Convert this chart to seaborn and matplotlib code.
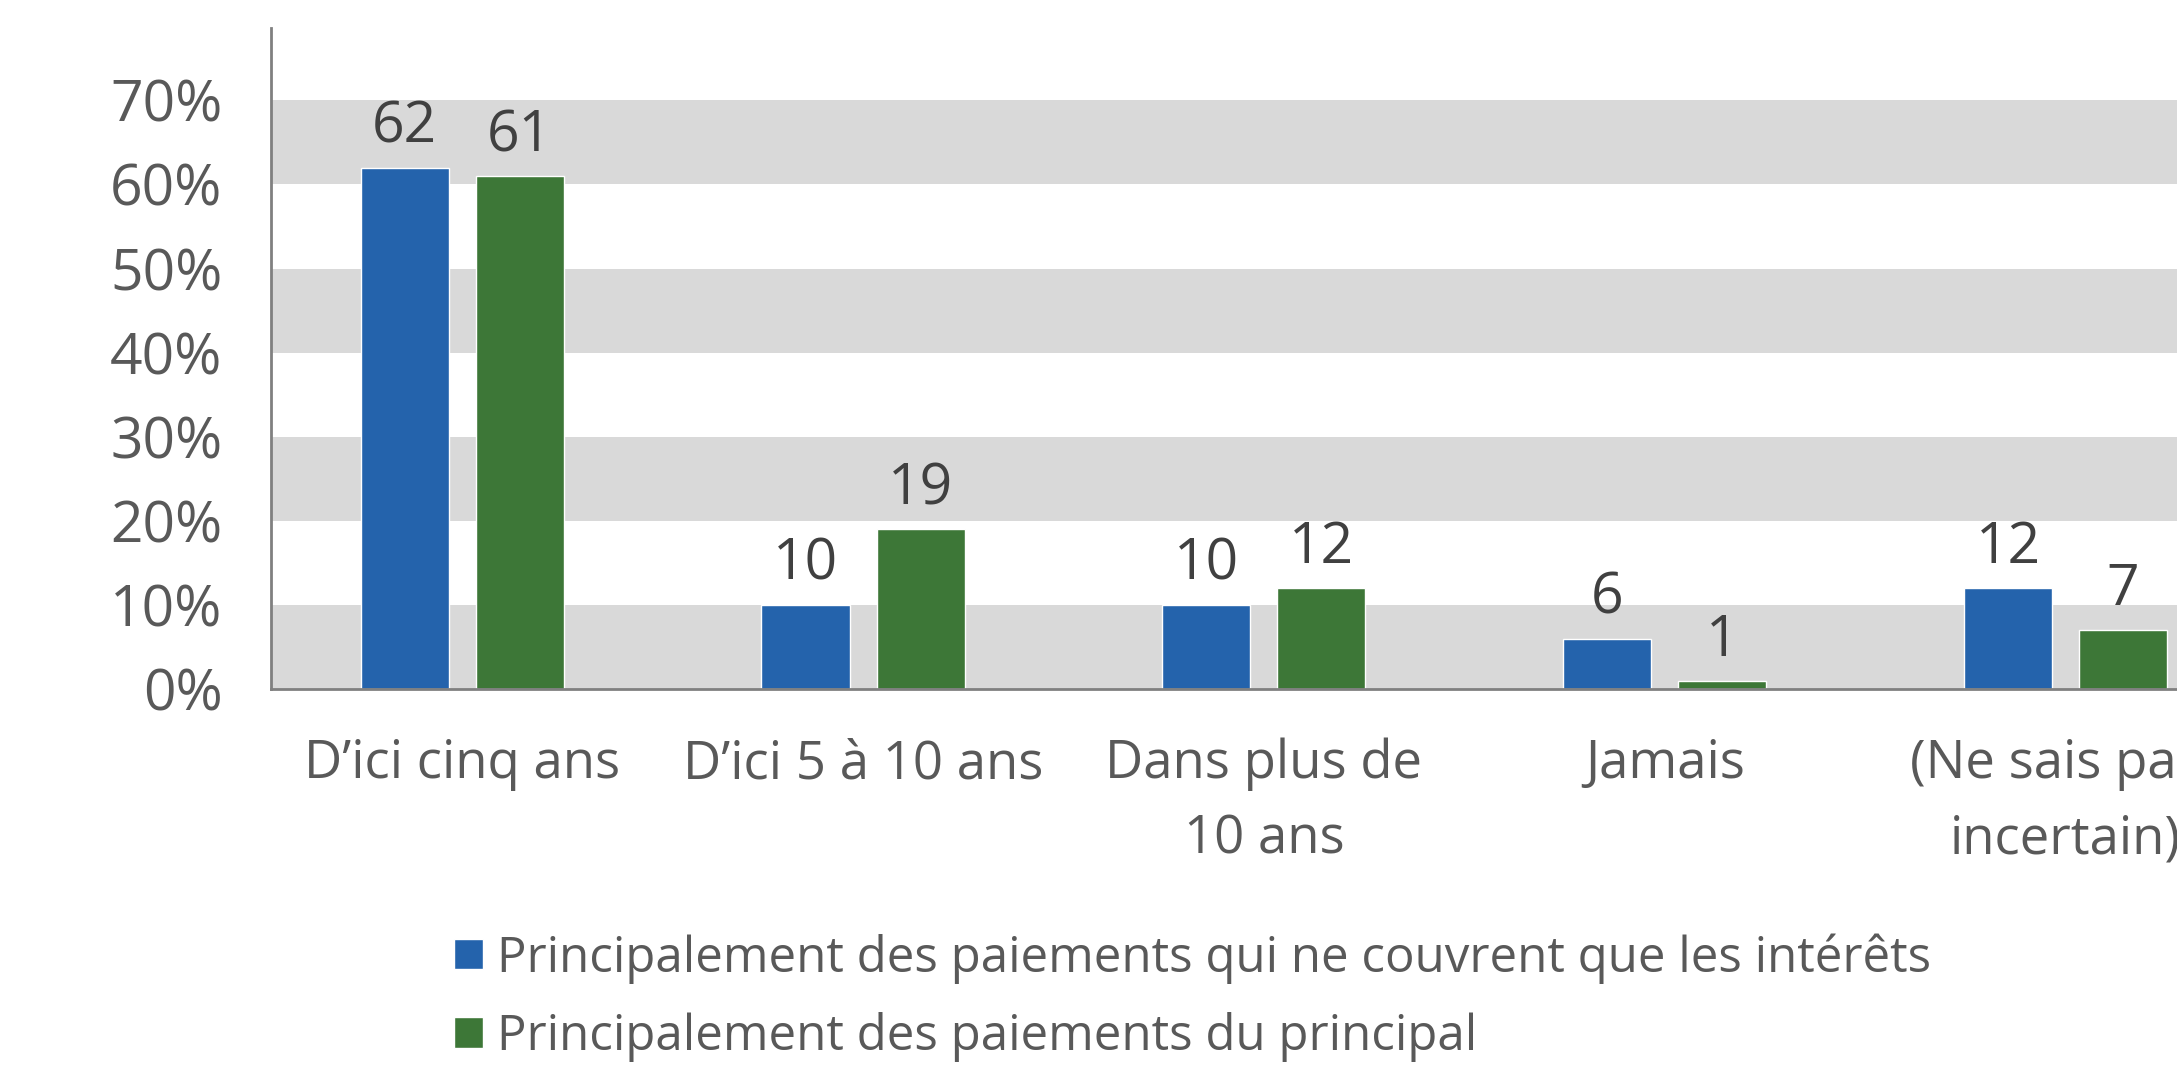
import pandas as pd
import matplotlib
matplotlib.use('Agg')
import matplotlib.pyplot as plt
import seaborn as sns

# Data (percent)
categories = ['D\u2019ici cinq ans', 'D\u2019ici 5 \u00e0 10 ans', 'Dans plus de\n10 ans',
              'Jamais', '(Ne sais pas/\nincertain)']
series_names = ['Principalement des paiements qui ne couvrent que les int\u00e9r\u00eats',
                'Principalement des paiements du principal']
interest_only = [62, 10, 10, 6, 12]
principal = [61, 19, 12, 1, 7]
y_ticks = [0, 10, 20, 30, 40, 50, 60, 70]

colors = ['#2463AC', '#3D7737']
text_color = '#595959'

df = pd.DataFrame({
    'categorie': categories * 2,
    'serie': [series_names[0]] * 5 + [series_names[1]] * 5,
    'valeur': interest_only + principal,
})

sns.set_style('white')
plt.rcParams['font.family'] = ['Open Sans', 'DejaVu Sans']

fig = plt.figure(figsize=(21.77, 10.65), dpi=100)
# axes run past the right edge like the cropped original
ax = fig.add_axes([271 / 2177, 376 / 1065, 1995 / 2177, 661 / 1065])

# alternating grey bands
for lo in y_ticks[::2]:
    ax.axhspan(lo, lo + 10, color='#D9D9D9', zorder=0, lw=0)

sns.barplot(data=df, x='categorie', y='valeur', hue='serie', order=categories,
            hue_order=series_names, palette=colors, width=0.574, gap=0.234,
            saturation=1, ax=ax, zorder=2)

for container in ax.containers:
    for bar in container:
        h = bar.get_height()
        ax.annotate(f'{h:.0f}', (bar.get_x() + bar.get_width() / 2, h),
                    xytext=(0, 25), textcoords='offset pixels',
                    ha='center', va='baseline', fontsize=41, color='#404040')

ax.set_xlim(-0.477, 4.5)
ax.set_ylim(0, 78.6)
ax.set_yticks(y_ticks)
ax.set_yticklabels([f'{t}%' for t in y_ticks])
ax.set_xlabel('')
ax.set_ylabel('')
ax.tick_params(axis='y', length=0, pad=35, labelsize=41, labelcolor=text_color)
ax.tick_params(axis='x', length=0, pad=35, labelsize=38, labelcolor=text_color)
for lbl in ax.get_xticklabels():
    lbl.set_linespacing(1.55)

for side in ['top', 'right']:
    ax.spines[side].set_visible(False)
for side in ['left', 'bottom']:
    ax.spines[side].set_color('#808080')
    ax.spines[side].set_linewidth(2)
    ax.spines[side].set_zorder(3)

handles, labels = ax.get_legend_handles_labels()
ax.legend_.remove()
fig.legend(handles, labels, loc='upper left', bbox_to_anchor=(454 / 2177, 1 - 933 / 1065),
           frameon=False, fontsize=35.5, labelcolor=text_color, handlelength=0.58,
           handleheight=0.58, handletextpad=0.29, labelspacing=0.57, borderpad=0,
           borderaxespad=0)

fig.savefig('out.png', dpi=100)
